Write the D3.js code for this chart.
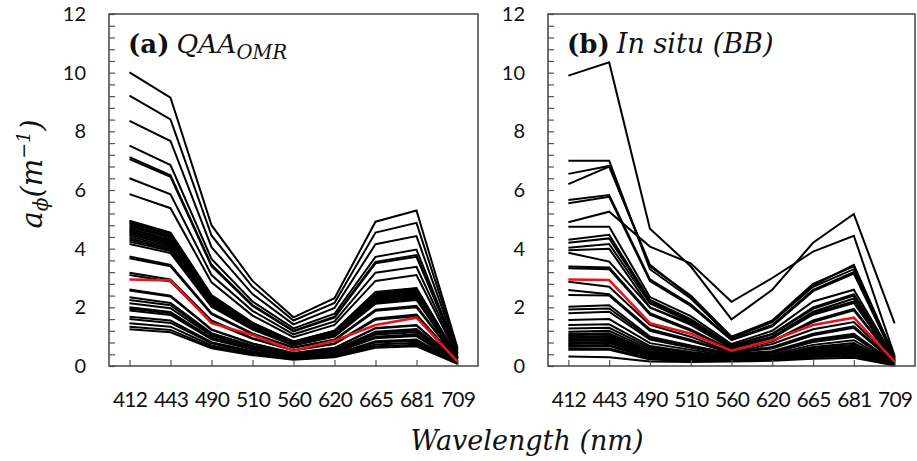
<!DOCTYPE html>
<html>
<head>
<meta charset="utf-8">
<script src="https://cdn.jsdelivr.net/npm/d3@7"></script>
<style>
  html, body { margin: 0; padding: 0; background: #fff; }
  svg { display: block; }
</style>
</head>
<body>
<script>
// ---------- data ----------
const wavelengths = ["412", "443", "490", "510", "560", "620", "665", "681", "709"];
const yMajorTicks = [0, 2, 4, 6, 8, 10, 12];

// (a) QAA_OMR spectra  (values at 412..709 nm)
const qaaLines = [
  [10.01, 9.15, 4.80, 2.90, 1.66, 2.31, 4.92, 5.30, 0.62],
  [9.22, 8.41, 4.45, 2.70, 1.55, 2.15, 4.55, 4.88, 0.56],
  [8.36, 7.67, 4.05, 2.45, 1.42, 1.98, 4.15, 4.43, 0.50],
  [7.51, 6.85, 3.65, 2.20, 1.28, 1.78, 3.72, 3.97, 0.45],
  [7.12, 6.50, 3.45, 2.08, 1.20, 1.68, 3.55, 3.78, 0.42],
  [7.05, 6.45, 3.40, 2.05, 1.18, 1.65, 3.50, 3.72, 0.42],
  [6.40, 5.85, 3.10, 1.88, 1.08, 1.52, 3.18, 3.38, 0.38],
  [5.86, 5.38, 2.85, 1.72, 0.98, 1.40, 2.90, 3.10, 0.35],
  [4.95, 4.55, 2.42, 1.48, 0.84, 1.20, 2.52, 2.66, 0.30],
  [4.90, 4.50, 2.40, 1.46, 0.83, 1.19, 2.50, 2.64, 0.30],
  [4.86, 4.47, 2.36, 1.45, 0.82, 1.17, 2.46, 2.61, 0.29],
  [4.80, 4.42, 2.33, 1.43, 0.81, 1.16, 2.43, 2.58, 0.29],
  [4.75, 4.38, 2.30, 1.42, 0.80, 1.14, 2.40, 2.55, 0.28],
  [4.69, 4.32, 2.27, 1.40, 0.79, 1.12, 2.37, 2.52, 0.28],
  [4.65, 4.28, 2.25, 1.38, 0.78, 1.11, 2.35, 2.50, 0.28],
  [4.61, 4.25, 2.23, 1.37, 0.78, 1.10, 2.33, 2.48, 0.27],
  [4.57, 4.21, 2.21, 1.36, 0.77, 1.09, 2.31, 2.46, 0.27],
  [4.52, 4.17, 2.19, 1.35, 0.76, 1.08, 2.29, 2.43, 0.27],
  [4.47, 4.12, 2.16, 1.33, 0.75, 1.07, 2.26, 2.40, 0.26],
  [4.41, 4.07, 2.14, 1.32, 0.74, 1.06, 2.24, 2.38, 0.26],
  [4.35, 4.02, 2.11, 1.30, 0.73, 1.04, 2.21, 2.35, 0.25],
  [4.30, 3.97, 2.08, 1.28, 0.73, 1.03, 2.18, 2.32, 0.25],
  [4.24, 3.92, 2.05, 1.27, 0.72, 1.02, 2.15, 2.29, 0.25],
  [4.16, 3.85, 2.02, 1.24, 0.70, 1.00, 2.12, 2.25, 0.24],
  [3.73, 3.45, 1.80, 1.11, 0.63, 0.90, 1.92, 2.05, 0.22],
  [3.67, 3.40, 1.77, 1.09, 0.62, 0.88, 1.88, 2.00, 0.22],
  [3.18, 2.95, 1.55, 0.95, 0.54, 0.77, 1.62, 1.75, 0.19],
  [3.10, 2.88, 1.50, 0.93, 0.53, 0.75, 1.58, 1.70, 0.18],
  [2.61, 2.40, 1.25, 0.77, 0.44, 0.62, 1.30, 1.40, 0.16],
  [2.57, 2.37, 1.23, 0.76, 0.43, 0.61, 1.28, 1.38, 0.15],
  [2.34, 2.15, 1.12, 0.69, 0.40, 0.56, 1.17, 1.26, 0.14],
  [2.25, 2.07, 1.08, 0.66, 0.38, 0.54, 1.12, 1.21, 0.13],
  [2.14, 1.97, 1.03, 0.63, 0.36, 0.51, 1.07, 1.15, 0.13],
  [2.00, 1.84, 0.96, 0.59, 0.34, 0.48, 1.00, 1.08, 0.12],
  [1.95, 1.80, 0.94, 0.58, 0.33, 0.47, 0.98, 1.05, 0.12],
  [1.89, 1.74, 0.91, 0.56, 0.32, 0.45, 0.95, 1.02, 0.11],
  [1.68, 1.55, 0.81, 0.50, 0.29, 0.40, 0.84, 0.90, 0.10],
  [1.60, 1.47, 0.77, 0.47, 0.27, 0.38, 0.80, 0.86, 0.10],
  [1.46, 1.34, 0.70, 0.43, 0.25, 0.35, 0.73, 0.79, 0.09],
  [1.34, 1.23, 0.64, 0.40, 0.23, 0.32, 0.67, 0.72, 0.08],
  [1.25, 1.15, 0.60, 0.37, 0.21, 0.30, 0.62, 0.67, 0.07]
];
const qaaMean = [2.95, 2.92, 1.46, 1.06, 0.52, 0.86, 1.40, 1.65, 0.15];

// (b) In situ (BB) spectra
const bbLines = [
  [9.90, 10.35, 4.68, 3.40, 1.59, 2.60, 4.20, 5.18, 1.45],
  [4.90, 5.26, 4.07, 3.50, 2.19, 3.00, 3.90, 4.44, 0.35],
  [7.00, 7.00, 3.30, 2.30, 0.95, 1.50, 2.75, 3.45, 0.30],
  [6.55, 6.82, 3.40, 2.40, 1.00, 1.55, 2.80, 3.40, 0.30],
  [6.20, 6.80, 3.45, 2.35, 0.98, 1.50, 2.70, 3.30, 0.28],
  [5.66, 5.83, 2.95, 2.10, 0.90, 1.40, 2.60, 3.20, 0.27],
  [5.55, 5.77, 2.90, 2.05, 0.88, 1.35, 2.55, 3.15, 0.26],
  [4.75, 4.75, 2.35, 1.70, 0.75, 1.20, 2.20, 2.60, 0.24],
  [4.30, 4.47, 2.25, 1.60, 0.70, 1.10, 2.00, 2.45, 0.22],
  [4.20, 4.35, 2.20, 1.55, 0.68, 1.08, 1.95, 2.40, 0.22],
  [4.03, 4.16, 2.13, 1.50, 0.65, 1.00, 1.85, 2.30, 0.20],
  [3.95, 4.00, 2.00, 1.45, 0.62, 0.95, 1.80, 2.20, 0.20],
  [3.86, 3.56, 2.00, 1.40, 0.60, 0.95, 1.75, 2.15, 0.19],
  [3.39, 3.36, 1.80, 1.25, 0.55, 0.85, 1.55, 1.95, 0.18],
  [3.33, 3.30, 1.75, 1.20, 0.53, 0.83, 1.50, 1.90, 0.17],
  [2.87, 2.70, 1.40, 1.00, 0.47, 0.75, 1.25, 1.50, 0.14],
  [2.59, 2.45, 1.25, 0.90, 0.45, 0.65, 1.10, 1.35, 0.13],
  [2.42, 2.40, 1.20, 0.85, 0.44, 0.60, 1.05, 1.30, 0.12],
  [2.02, 2.07, 1.00, 0.70, 0.42, 0.50, 0.90, 1.10, 0.10],
  [1.93, 1.96, 0.95, 0.68, 0.40, 0.48, 0.88, 1.05, 0.10],
  [1.80, 1.85, 0.90, 0.62, 0.38, 0.45, 0.82, 1.00, 0.09],
  [1.57, 1.60, 0.78, 0.55, 0.35, 0.40, 0.72, 0.88, 0.08],
  [1.40, 1.42, 0.68, 0.48, 0.33, 0.36, 0.65, 0.78, 0.07],
  [1.28, 1.30, 0.62, 0.44, 0.31, 0.35, 0.60, 0.72, 0.06],
  [1.17, 1.20, 0.56, 0.40, 0.30, 0.34, 0.57, 0.66, 0.06],
  [1.10, 1.12, 0.50, 0.36, 0.28, 0.34, 0.55, 0.62, 0.06],
  [1.05, 1.08, 0.48, 0.34, 0.27, 0.33, 0.52, 0.60, 0.06],
  [1.00, 1.02, 0.46, 0.33, 0.26, 0.32, 0.50, 0.57, 0.05],
  [0.95, 0.97, 0.43, 0.31, 0.25, 0.30, 0.47, 0.54, 0.05],
  [0.90, 0.92, 0.41, 0.30, 0.24, 0.29, 0.45, 0.51, 0.05],
  [0.85, 0.88, 0.38, 0.28, 0.23, 0.28, 0.43, 0.48, 0.04],
  [0.80, 0.82, 0.36, 0.27, 0.22, 0.27, 0.41, 0.46, 0.04],
  [0.75, 0.78, 0.33, 0.25, 0.21, 0.26, 0.39, 0.44, 0.04],
  [0.70, 0.72, 0.30, 0.23, 0.20, 0.25, 0.37, 0.42, 0.03],
  [0.66, 0.68, 0.28, 0.22, 0.19, 0.24, 0.35, 0.40, 0.03],
  [0.60, 0.60, 0.25, 0.20, 0.18, 0.22, 0.32, 0.37, 0.03],
  [0.55, 0.55, 0.22, 0.18, 0.17, 0.21, 0.30, 0.34, 0.03],
  [0.32, 0.30, 0.15, 0.14, 0.15, 0.18, 0.25, 0.28, 0.02]
];
const bbMean = [2.95, 2.93, 1.46, 1.10, 0.52, 0.88, 1.40, 1.65, 0.15];

// ---------- drawing ----------
const W = 917, H = 461;
const plotTop = 14, plotBottom = 366;
const svg = d3.select("body").append("svg").attr("width", W).attr("height", H);
svg.append("rect").attr("width", W).attr("height", H).attr("fill", "#fff");

const y = d3.scaleLinear().domain([0, 12]).range([plotBottom, plotTop]);
const labelFont = "Lato, 'Open Sans', sans-serif";
const serif = "'DejaVu Serif', serif";

const panels = [
  { x0: 109, x1: 478, lines: qaaLines, mean: qaaMean, tag: "(a)", name: "QAA", sub: "OMR" },
  { x0: 548, x1: 915, lines: bbLines, mean: bbMean, tag: "(b)", name: "In situ (BB)", sub: null }
];

panels.forEach(p => {
  const g = svg.append("g");
  const x = d3.scalePoint().domain(wavelengths).range([p.x0, p.x1]).padding(0.5);
  const line = d3.line().x((d, i) => x(wavelengths[i])).y(d => y(d));

  // spectra
  g.append("g").selectAll("path").data(p.lines).join("path")
    .attr("d", line).attr("fill", "none").attr("stroke", "#000")
    .attr("stroke-width", 2).attr("stroke-linejoin", "miter");
  g.append("path").datum(p.mean).attr("d", line).attr("fill", "none")
    .attr("stroke", "#e8141b").attr("stroke-width", 2.6);

  // x axis
  const xa = g.append("g").attr("transform", `translate(0,${plotBottom})`)
    .call(d3.axisBottom(x).tickSize(-6).tickSizeOuter(0).tickPadding(26));
  xa.select(".domain").remove();
  xa.selectAll("line").attr("stroke", "#555").attr("stroke-width", 1.2);
  xa.selectAll("text").attr("font-family", labelFont).attr("font-size", 21)
    .attr("letter-spacing", -0.8).attr("fill", "#111");

  // y axis minor ticks
  const ym = g.append("g").attr("transform", `translate(${p.x0},0)`)
    .call(d3.axisLeft(y).tickValues(d3.range(0, 12.001, 0.4)).tickSize(-6).tickSizeOuter(0).tickFormat(""));
  ym.select(".domain").remove();
  ym.selectAll("line").attr("stroke", "#555").attr("stroke-width", 1.2);
  // y axis labels
  const ya = g.append("g").attr("transform", `translate(${p.x0},0)`)
    .call(d3.axisLeft(y).tickValues(yMajorTicks).tickSize(0).tickPadding(23).tickFormat(d3.format("d")));
  ya.select(".domain").remove();
  ya.selectAll("text").attr("font-family", labelFont).attr("font-size", 20).attr("fill", "#111");

  // frame
  g.append("rect").attr("x", p.x0).attr("y", plotTop).attr("width", p.x1 - p.x0).attr("height", plotBottom - plotTop)
    .attr("fill", "none").attr("stroke", "#444").attr("stroke-width", 1.5);

  // title
  const t = g.append("text").attr("x", p.x0 + 19).attr("y", 53).attr("fill", "#111");
  t.append("tspan").attr("font-family", serif).attr("font-weight", "bold")
    .attr("font-size", 26).text(p.tag);
  t.append("tspan").attr("font-family", serif).attr("font-style", "italic")
    .attr("font-size", p.sub ? 26.5 : 27).attr("dx", 7).text(p.name);
  if (p.sub) {
    t.append("tspan").attr("font-family", serif).attr("font-style", "italic")
      .attr("font-size", 19.5).attr("dy", 6).text(p.sub);
  }
});

// axis titles
svg.append("text").attr("x", 527).attr("y", 450).attr("text-anchor", "middle")
  .attr("font-family", serif).attr("font-style", "italic").attr("font-size", 27)
  .attr("fill", "#111").text("Wavelength (nm)");

const yt = svg.append("text").attr("transform", "translate(42,174) rotate(-90)")
  .attr("text-anchor", "middle").attr("font-family", serif)
  .attr("font-style", "italic").attr("font-size", 29).attr("fill", "#111");
yt.append("tspan").text("a");
yt.append("tspan").attr("font-size", 20).attr("dy", 6).text("ϕ");
yt.append("tspan").attr("dy", -6).text("(m");
yt.append("tspan").attr("font-size", 19).attr("dy", -12).text("−1");
yt.append("tspan").attr("dy", 12).text(")");
</script>
</body>
</html>
